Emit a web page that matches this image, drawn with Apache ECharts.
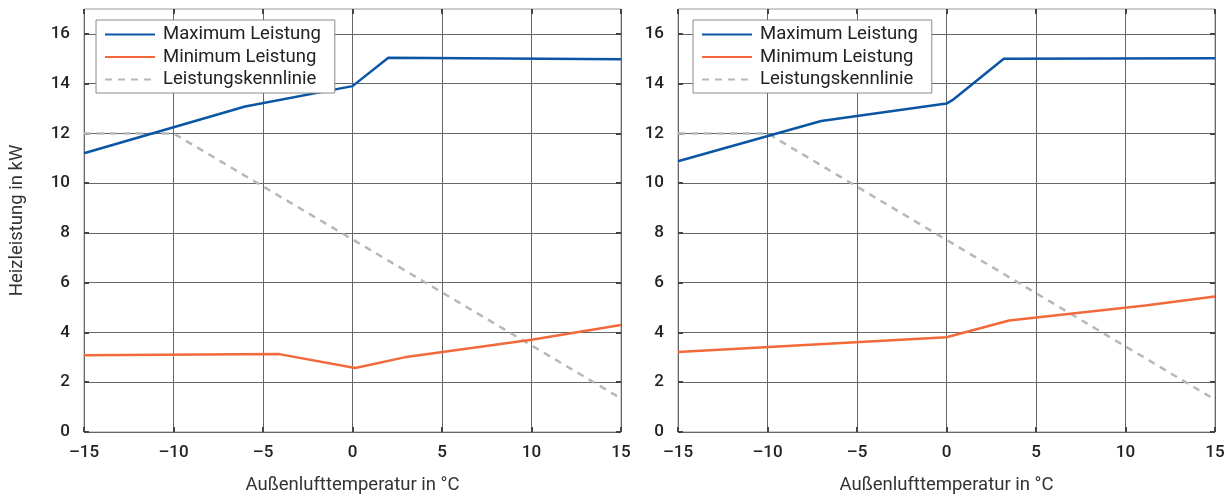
<!DOCTYPE html>
<html><head><meta charset="utf-8">
<script src="https://cdn.jsdelivr.net/npm/echarts@6/dist/echarts.min.js"></script>
<style>html,body{margin:0;padding:0;background:#fff}#c{width:1228px;height:502px}</style>
</head><body><div id="c"></div>
<script>
const xTicks = [-15,-10,-5,0,5,10,15];
const yTicks = [0,2,4,6,8,10,12,14,16];
const seriesNames = ['Maximum Leistung','Minimum Leistung','Leistungskennlinie'];
const xLabel = 'Außenlufttemperatur in °C';
const yLabel = 'Heizleistung in kW';

const leftMaxX = [-15,-6,0,2,15];
const leftMaxY = [11.2,13.08,13.9,15.04,14.98];
const leftMinX = [-15,-4.1,0.15,2.9,10,15];
const leftMinY = [3.08,3.13,2.57,3.0,3.71,4.3];
const leftKennX = [-15,-10,15];
const leftKennY = [12,12,1.35];

const rightMaxX = [-15,-7,0,0.4,3.2,15];
const rightMaxY = [10.88,12.5,13.2,13.37,15.0,15.02];
const rightMinX = [-15,0,3.5,11.1,15];
const rightMinY = [3.22,3.81,4.48,5.08,5.45];
const rightKennX = [-15,-10,15];
const rightKennY = [12,12,1.3];

const zip = (a,b) => a.map((v,i)=>[v,b[i]]);
const colors = ['#0b56a4','#f26a3b','#b3b9bb'];
const FONT = 'Roboto';

const grids = [
  {left:84, right:607, top:9, bottom:70, show:true, borderColor:'#9a9a9a', borderWidth:1, backgroundColor:'transparent'},
  {left:678, right:13, top:9, bottom:70, show:true, borderColor:'#9a9a9a', borderWidth:1, backgroundColor:'transparent'}
];

function mkX(gi, pos, main) {
  return {
    type:'value', gridIndex:gi, position:pos, min:-15, max:15, interval:5,
    axisLine:{show:false, onZero:false},
    axisTick:{show:true, inside:true, length:5, customValues:xTicks, lineStyle:{color:'#444', width:2}},
    axisLabel:{show:main, customValues:xTicks, margin:12, fontFamily:FONT, fontSize:17, fontWeight:500, color:'#222',
      formatter: v => (v<0 ? '\u2013'+Math.abs(v) : String(v))},
    splitLine:{show:main, lineStyle:{color:'#666', width:1}},
    name: main ? xLabel : '', nameLocation:'middle', nameGap:44,
    nameTextStyle:{fontFamily:FONT, fontSize:18.5, color:'#333'}
  };
}
function mkY(gi, pos, main, named) {
  return {
    type:'value', gridIndex:gi, position:pos, min:0, max:17,
    axisLine:{show:false, onZero:false},
    axisTick:{show:true, inside:true, length:5, customValues:yTicks, lineStyle:{color:'#444', width:2}},
    axisLabel:{show:main, customValues:yTicks, margin:14, fontFamily:FONT, fontSize:17, fontWeight:500, color:'#222'},
    splitLine:{show:main, lineStyle:{color:'#666', width:1}},
    name: named ? yLabel : '', nameLocation:'middle', nameGap:57,
    nameTextStyle:{fontFamily:FONT, fontSize:18.5, color:'#333'}
  };
}

const xAxes = [mkX(0,'bottom',true), mkX(0,'top',false), mkX(1,'bottom',true), mkX(1,'top',false)];
const yAxes = [mkY(0,'left',true,true), mkY(0,'right',false,false), mkY(1,'left',true,false), mkY(1,'right',false,false)];

function line(name, data, xi, yi, color, dashed) {
  return {
    name, type:'line', xAxisIndex:xi, yAxisIndex:yi, data, symbol:'none', smooth:false,
    lineStyle:{color, width:2.5, type: dashed ? [7,6] : 'solid'}, itemStyle:{color},
    animation:false, z: dashed ? 2 : 3
  };
}

const series = [
  line(seriesNames[2], zip(leftKennX,leftKennY), 0, 0, colors[2], true),
  line(seriesNames[0], zip(leftMaxX,leftMaxY), 0, 0, colors[0], false),
  line(seriesNames[1], zip(leftMinX,leftMinY), 0, 0, colors[1], false),
  line(seriesNames[2], zip(rightKennX,rightKennY), 2, 2, colors[2], true),
  line(seriesNames[0], zip(rightMaxX,rightMaxY), 2, 2, colors[0], false),
  line(seriesNames[1], zip(rightMinX,rightMinY), 2, 2, colors[1], false)
];

function mkLegend(left) {
  return {
    left, top:20, orient:'vertical', data:seriesNames, selectedMode:false,
    itemWidth:50, itemHeight:14, itemGap:3.5, padding:[5,14,4,8],
    itemStyle:{opacity:0, borderWidth:0},
    backgroundColor:'#fff', borderColor:'#8a8a8a', borderWidth:1, borderRadius:0,
    textStyle:{fontFamily:FONT, fontSize:18.5, color:'#222', lineHeight:18, padding:[0,0,0,3]}
  };
}

const chart = echarts.init(document.getElementById('c'), null, {renderer:'canvas'});
chart.setOption({
  animation:false,
  grid:grids, xAxis:xAxes, yAxis:yAxes, series,
  legend:[mkLegend(96), mkLegend(693)]
});
</script></body></html>
